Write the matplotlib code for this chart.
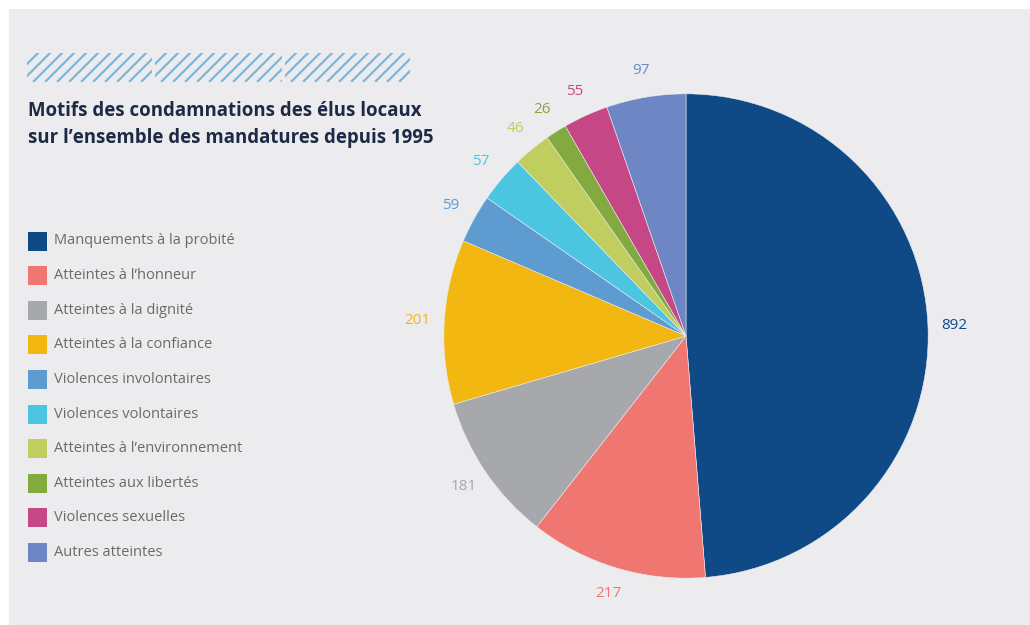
import matplotlib.pyplot as plt
from matplotlib.patches import Rectangle
import numpy as np

# Motifs des condamnations des élus locaux depuis 1995
categories = [
    "Manquements à la probité",
    "Atteintes à l’honneur",
    "Atteintes à la dignité",
    "Atteintes à la confiance",
    "Violences involontaires",
    "Violences volontaires",
    "Atteintes à l’environnement",
    "Atteintes aux libertés",
    "Violences sexuelles",
    "Autres atteintes",
]
counts = [892, 217, 181, 201, 59, 57, 46, 26, 55, 97]
colors = ["#0F4A87", "#F07671", "#A7A8AB", "#F2B711", "#5E9BD0",
          "#4BC5E0", "#BFCE5E", "#82AA3F", "#C54786", "#6E86C4"]

plt.rcParams['font.family'] = ['Open Sans', 'DejaVu Sans']

fig = plt.figure(figsize=(10.3, 6.25), dpi=100)
fig.patch.set_facecolor('white')

# overlay in pixel coordinates for background, title and legend
bg = fig.add_axes([0, 0, 1, 1])
bg.set_xlim(0, 1030)
bg.set_ylim(625, 0)
bg.axis('off')
bg.add_patch(Rectangle((9, 9), 1030, 625, facecolor='#ECECEF', edgecolor='none'))

# decorative diagonal stripes
for x0, x1 in [(27, 152), (155, 282), (285, 410)]:
    clip = Rectangle((x0, 53), x1 - x0, 29, transform=bg.transData)
    for s in np.arange(x0 - 30, x1 + 30, 12):
        ln, = bg.plot([s, s + 30], [82, 52], color='#74B9E6', lw=1.6,
                      solid_capstyle='butt')
        ln.set_clip_path(clip)

bg.text(28, 111, "Motifs des condamnations des élus locaux", fontsize=13.4,
        fontweight='bold', color='#1E2A45', va='center', ha='left')
bg.text(28, 138, "sur l’ensemble des mandatures depuis 1995", fontsize=13.4,
        fontweight='bold', color='#1E2A45', va='center', ha='left')

# legend
for i, (name, col) in enumerate(zip(categories, colors)):
    y = 241 + i * 34.6
    bg.add_patch(Rectangle((28, y - 9.5), 19, 19, facecolor=col, edgecolor='none'))
    bg.text(54, y, name, fontsize=10.5, color='#6A6A6A', va='center', ha='left')

# pie
W = 557
ax = fig.add_axes([(686 - W / 2) / 1030, (625 - 336 - W / 2) / 625,
                   W / 1030, W / 625])
wedges, texts = ax.pie(counts, colors=colors, startangle=90, counterclock=False,
                       labels=[str(c) for c in counts], labeldistance=1.11,
                       wedgeprops=dict(edgecolor='#ECECEF', linewidth=0.4))
for t, col in zip(texts, colors):
    t.set_color(col)
    t.set_fontsize(11)
    t.set_ha('center')
    t.set_va('center')
ax.set_xlim(-1.15, 1.15)
ax.set_ylim(-1.15, 1.15)
ax.set_aspect('equal')

fig.savefig('out.png', dpi=100)
